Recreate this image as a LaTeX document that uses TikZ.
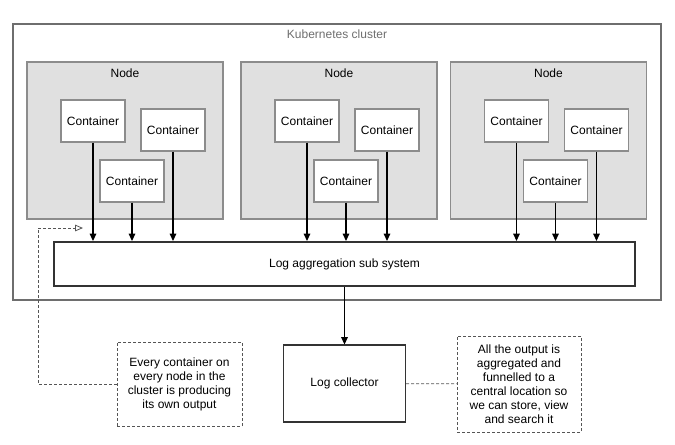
\documentclass[tikz,border=0pt]{standalone}
\usepackage{fontspec}
\setmainfont{Liberation Sans}
\usepackage{tikz}
\usetikzlibrary{arrows.meta,positioning}
\definecolor{nodefill}{HTML}{E0E0E0}
\definecolor{nodeline}{HTML}{8C8C8C}
\definecolor{boxline}{HTML}{333333}
\definecolor{noteline}{HTML}{555555}
\definecolor{clusterline}{HTML}{6E6E6E}
\newcommand{\px}{0.75pt}
\tikzset{
	every node/.style={font=\fontsize{9}{10.5}\selectfont, text=black},
	cluster/.style={draw=clusterline, line width=1pt, minimum width=648*\px, minimum height=276*\px},
	nodebox/.style={draw=nodeline, line width=1pt, fill=nodefill, minimum width=196*\px, minimum height=157*\px},
	container/.style={draw=nodeline, line width=1pt, fill=white, minimum width=64*\px, minimum height=42*\px, inner sep=0pt},
	aggbox/.style={draw=boxline, line width=1.6pt, minimum width=581*\px, minimum height=44*\px},
	collector/.style={draw=boxline, line width=0.8pt, minimum width=122*\px, minimum height=77*\px},
	note/.style={draw=noteline, line width=0.6pt, dash pattern=on 2.25pt off 1.5pt, align=center, inner sep=0pt},
	feed/.style={line width=0.8pt, -{Triangle[width=5pt,length=5.5pt]}},
	hint/.style={draw=noteline, line width=0.6pt, dash pattern=on 2.25pt off 1.5pt}
}
\newcommand{\kubenode}[2] % {name}{x}
{
	\node [nodebox] (#1) at (#2+98,140.5) {};
	\node [anchor=north] (#1t) at ([yshift=-2pt]#1.north) {Node};
	\node [container] (#1a) at (#2+66,121) {Container};
	\node [container] (#1b) at (#2+146,130) {Container};
	\node [container] (#1c) at (#2+105,181) {Container};
	\foreach \c in {a,b,c}
		\draw [feed] (#1\c) -- (#1\c |- agg.north);
}

\begin{document}
\begin{tikzpicture}[x=0.75pt, y=-0.75pt]
	\useasboundingbox (0,0) rectangle (675,444);
	\node [cluster] (k8s) at (337,162) {};
	\node [anchor=north, text=clusterline] (k8st) at ([yshift=-1.5pt]k8s.north) {Kubernetes cluster};
	\node [aggbox] (agg) at (344.5,264) {Log aggregation sub system};
	
	\kubenode{na}{27}
	\kubenode{nb}{241}
	\kubenode{nc}{450.5}
	
	\node [collector] (coll) at (344.5,383.5) {Log collector};
	\node [note, minimum width=125*\px, minimum height=84*\px] (left) at (179.5,384) {Every container on\\every node in the\\cluster is producing\\its own output};
	\node [note, minimum width=124*\px, minimum height=96*\px] (right) at (519,384) {All the output is\\aggregated and\\funnelled to a\\central location so\\we can store, view\\and search it};
	
	\draw [feed] (agg) -- (coll);
	\coordinate (back) at (83,228);
	\draw [hint, -{Triangle[open,width=5pt,length=6pt]}] (left.west) -| (38,228) -- (back);
	\draw [hint] (coll) -- (right);
\end{tikzpicture}
\end{document}
